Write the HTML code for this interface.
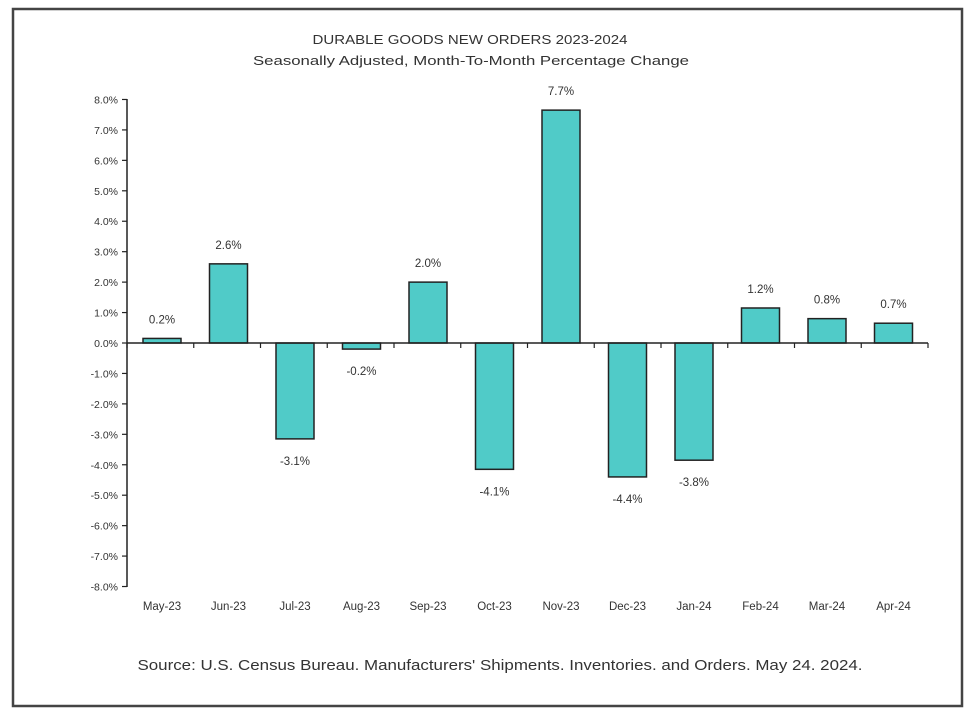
<!DOCTYPE html><html><head><style>body{margin:0;background:#fff}svg text{font-family:"Liberation Sans",sans-serif;fill:#333}</style></head><body>
<svg width="975" height="716" xmlns="http://www.w3.org/2000/svg">
<rect x="13" y="9" width="949" height="697" fill="#fff" stroke="#444" stroke-width="2.5"/>
<text x="470" y="44" text-anchor="middle" font-size="13" textLength="315" lengthAdjust="spacingAndGlyphs">DURABLE GOODS NEW ORDERS 2023-2024</text>
<text x="471" y="65" text-anchor="middle" font-size="13" textLength="436" lengthAdjust="spacingAndGlyphs">Seasonally Adjusted,  Month-To-Month Percentage Change</text>
<g id="ax"></g>
<text x="500" y="670" text-anchor="middle" font-size="15" textLength="725" lengthAdjust="spacingAndGlyphs">Source: U.S. Census Bureau. Manufacturers' Shipments. Inventories. and Orders. May 24. 2024.</text>
</svg>
<script>
const g=document.getElementById('ax'),ns='http://www.w3.org/2000/svg';
function el(t,a,txt){const e=document.createElementNS(ns,t);for(const k in a)e.setAttribute(k,a[k]);if(txt)e.textContent=txt;g.appendChild(e);}
const z=343,s=30.44;
el('line',{x1:127,y1:99,x2:127,y2:587,stroke:'#222','stroke-width':1.5});
for(let v=8;v>=-8;v--){const y=z-v*s;el('line',{x1:122,y1:y,x2:127,y2:y,stroke:'#222','stroke-width':1.2});
el('text',{x:118,y:y+4,'text-anchor':'end','font-size':10.5},v.toFixed(1)+'%');}
const cats=['May-23','Jun-23','Jul-23','Aug-23','Sep-23','Oct-23','Nov-23','Dec-23','Jan-24','Feb-24','Mar-24','Apr-24'];
const vals=[0.15,2.6,-3.15,-0.2,2.0,-4.15,7.65,-4.4,-3.85,1.15,0.8,0.65];
const labs=['0.2%','2.6%','-3.1%','-0.2%','2.0%','-4.1%','7.7%','-4.4%','-3.8%','1.2%','0.8%','0.7%'];
vals.forEach((v,i)=>{const c=162+i*66.5,y=z-v*s,top=Math.min(y,z),h=Math.abs(y-z);
el('rect',{x:c-19,y:top,width:38,height:h,fill:'#50cbc8',stroke:'#222','stroke-width':1.5});
el('text',{x:c,y:v>=0?y-15:y+26,'text-anchor':'middle','font-size':11.5},labs[i]);
el('text',{x:c,y:610,'text-anchor':'middle','font-size':11.5},cats[i]);});
el('line',{x1:127,y1:z,x2:928,y2:z,stroke:'#222','stroke-width':1.5});
for(let i=0;i<=12;i++){const x=127+i*66.75;el('line',{x1:x,y1:z,x2:x,y2:z+5,stroke:'#222','stroke-width':1.2});}
</script>
</body></html>
